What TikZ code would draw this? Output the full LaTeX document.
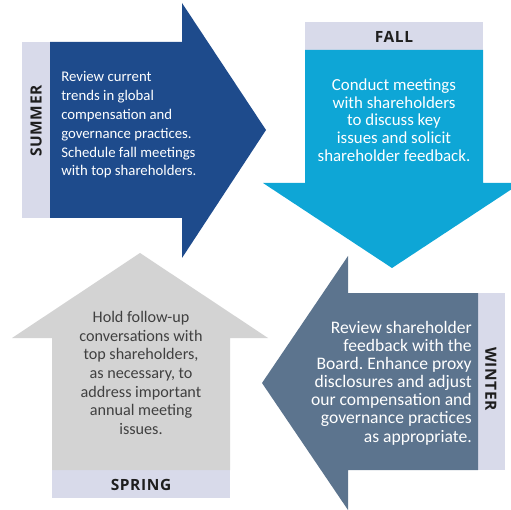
\documentclass[tikz,border=0pt]{standalone}
\usepackage{fontspec}
\setmainfont{Carlito}
\newfontfamily\seasonfont{Open Sans}[LetterSpace=4]
\usepackage{tikz}
\frenchspacing

\definecolor{summerblue}{HTML}{1E4B8C}
\definecolor{fallcyan}{HTML}{0EA6D6}
\definecolor{winterslate}{HTML}{5C748E}
\definecolor{springgray}{HTML}{D3D3D3}
\definecolor{bandlilac}{HTML}{D8DAEA}
\definecolor{labelink}{HTML}{1E1E1E}

\tikzset{
  season/.style={inner sep=0pt, text=labelink, font=\seasonfont\bfseries\fontsize{11}{13}\selectfont},
  blurb/.style={inner sep=0pt, text=white, font=\fontsize{11.5}{13.2}\selectfont}
}

\begin{document}
\begin{tikzpicture}[x=0.025cm, y=-0.025cm]
		\clip (0,0) rectangle (511,510);

		% Verao
		\fill[bandlilac] (22,42) rectangle (50,218);
		\fill[summerblue] (50,42) -- (182,42) -- (182,3) -- (266,130) -- (182,258) -- (182,218) -- (50,218) -- cycle;
		\node[season, rotate=90] (summer) at (36,121) {SUMMER};
		\node[blurb, anchor=west, align=left, font=\fontsize{10.5}{13.4}\selectfont] (summertxt) at (61,125)
			{Review current\\trends in global\\compensation and\\governance practices.\\Schedule fall meetings\\with top shareholders.};

		% Outono
		\fill[bandlilac] (305,22) rectangle (483,50);
		\fill[fallcyan] (305,50) -- (483,50) -- (483,183) -- (521,183) -- (392,268) -- (263,183) -- (305,183) -- cycle;
		\node[season] (fall) at (394,37) {FALL};
		\node[blurb, align=center, font=\fontsize{12}{12.6}\selectfont] (falltxt) at (394,120)
			{Conduct meetings\\with shareholders\\to discuss key\\issues and solicit\\shareholder feedback.};

		% Inverno
		\fill[bandlilac] (478,293) rectangle (505,470);
		\fill[winterslate] (478,293) -- (478,470) -- (348,470) -- (348,510) -- (262,383) -- (348,256) -- (348,293) -- cycle;
		\node[season, rotate=-90] (winter) at (491,379) {WINTER};
		\node[blurb, anchor=east, align=right, font=\fontsize{12.5}{12.9}\selectfont] (wintertxt) at (472,383)
			{Review shareholder\\feedback with the\\Board. Enhance proxy\\disclosures and adjust\\our compensation and\\governance practices\\as appropriate.};

		% Primavera
		\fill[bandlilac] (52,470) rectangle (230,498);
		\fill[springgray] (52,470) -- (230,470) -- (230,338) -- (268,338) -- (140,253) -- (12,338) -- (52,338) -- cycle;
		\node[season] (spring) at (141,485) {SPRING};
		\node[blurb, align=center, text=labelink!85, font=\fontsize{11.5}{13.2}\selectfont] (springtxt) at (141,373)
			{Hold follow-up\\conversations with\\top shareholders,\\as necessary, to\\address important\\annual meeting\\issues.};

	\end{tikzpicture}
\end{document}
